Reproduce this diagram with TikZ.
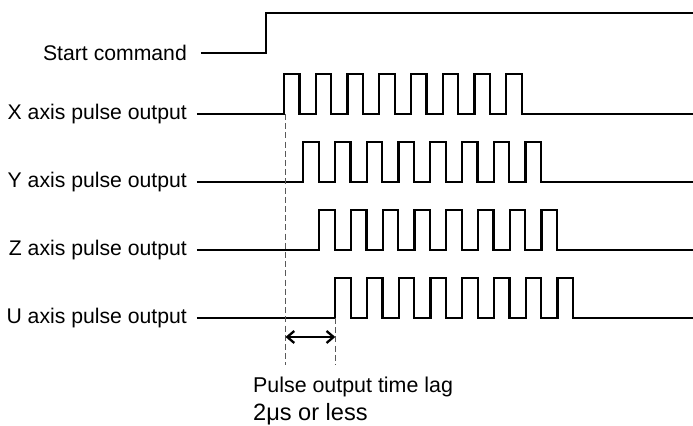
\documentclass[tikz,border=0pt]{standalone}
\usepackage{fontspec}
\setmainfont{Liberation Sans}
\usetikzlibrary{arrows.meta}
\begin{document}
\begin{tikzpicture}[x=0.5pt,y=-0.5pt,line width=1.15pt,
  lbl/.style={anchor=east,inner sep=0pt,font=\fontsize{10.6}{12}\selectfont},
  lagtext/.style={anchor=base west,inner sep=0pt,font=\fontsize{10.7}{12}\selectfont},
  lag/.style={line width=.65pt,black!65,dash pattern=on 3pt off 1.6pt}]
\useasboundingbox (0,0) rectangle (693,426);
\node[lbl] (start) at (188,53) {Start command}; \draw (start.east) ++(13,0) -- (266,53) -- (266,13) -- (693,13);
\foreach \n/\lab/\b/\s in {xax/X/114/284,yax/Y/182/303.3,zax/Z/250/319.3,uax/U/318/335.3}{
  \node[lbl] (\n) at (188,\b) {\lab\ axis pulse output};
  \draw[line join=miter] (\n.east) ++(9,0) -- (\s,\b) \foreach \k in {1,...,8}{ -- ++(0,-40) -- ++(15.5,0) -- ++(0,40) -- ++(16.25,0)} -- (693,\b);
}
\coordinate (lagA) at (285.5,114); \coordinate (lagB) at (335.3,318);
\draw[lag] (lagA) -- ++(0,251); \draw[lag] (lagB) -- ++(0,47);
\coordinate (arrA) at (285.5,337); \coordinate (arrB) at (335.3,337);
\draw[{Straight Barb[length=3.5pt,width=6pt]}-{Straight Barb[length=3.5pt,width=6pt]}] (arrA) -- (arrB);
\node[lagtext] (lagname) at (252,393) {Pulse output time lag};
\node[lagtext,font=\fontsize{11.8}{13}\selectfont] (lagvalue) at (252,421) {2μs or less};
\end{tikzpicture}
\end{document}
